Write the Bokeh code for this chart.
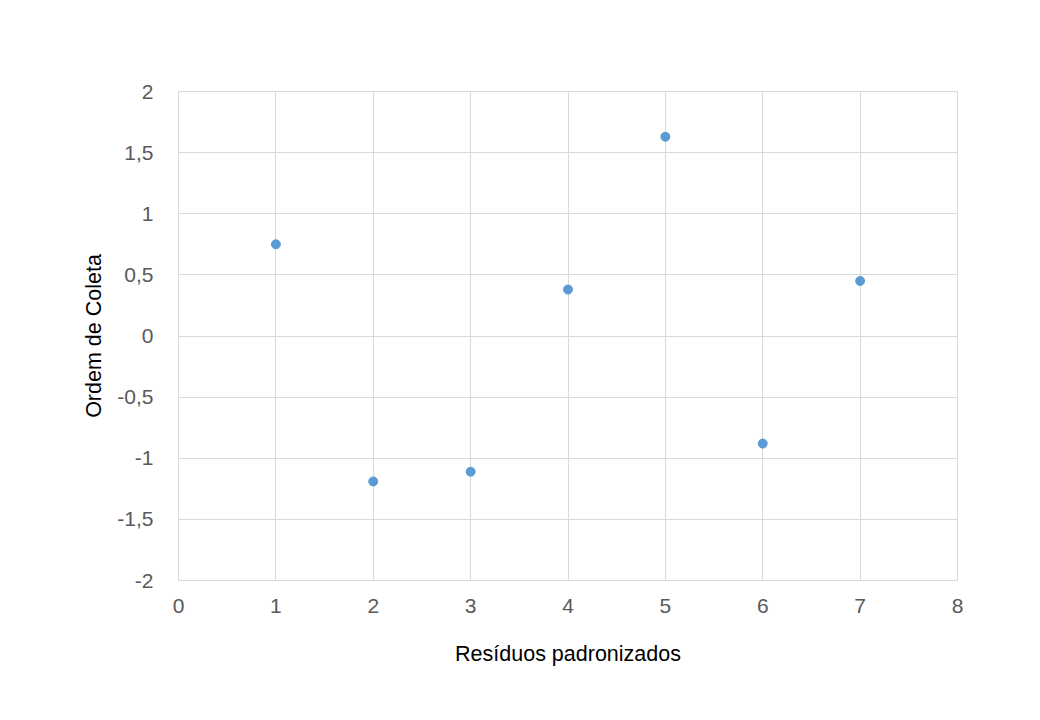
from bokeh.plotting import figure
from bokeh.models import Range1d, FixedTicker
from bokeh.embed import file_html
from bokeh.resources import INLINE

# ordem de coleta vs residuos padronizados
ordem = [1, 2, 3, 4, 5, 6, 7]
residuos = [0.75, -1.19, -1.11, 0.38, 1.63, -0.88, 0.45]

x_ticks = [0, 1, 2, 3, 4, 5, 6, 7, 8]
y_ticks = [-2, -1.5, -1, -0.5, 0, 0.5, 1, 1.5, 2]
y_labels = ["-2", "-1,5", "-1", "-0,5", "0", "0,5", "1", "1,5", "2"]

FONT = "Liberation Sans"
GRID = "#d9d9d9"

p = figure(width=1024, height=704, output_backend="svg", toolbar_location=None,
           x_range=Range1d(0, 8), y_range=Range1d(-2, 2),
           min_border_left=178, min_border_right=67,
           min_border_top=91, min_border_bottom=124)
p.outline_line_color = GRID

p.scatter(ordem, residuos, size=9, color="#5b9bd5", line_color="#5b9bd5")

for ax, ticks in ((p.xaxis, x_ticks), (p.yaxis, y_ticks)):
    ax.ticker = FixedTicker(ticks=ticks)
    ax.axis_line_color = None
    ax.major_tick_line_color = None
    ax.minor_tick_line_color = None
    ax.major_label_text_font = FONT
    ax.major_label_text_font_size = "21px"
    ax.major_label_text_color = "#595959"
    ax.axis_label_text_font = FONT
    ax.axis_label_text_font_size = "21.5px"
    ax.axis_label_text_font_style = "normal"
    ax.axis_label_text_color = "#000000"

p.yaxis.major_label_overrides = dict(zip(y_ticks, y_labels))
p.xaxis.axis_label = "Resíduos padronizados"
p.yaxis.axis_label = "Ordem de Coleta"
p.yaxis.major_label_standoff = 19
p.xaxis.major_label_standoff = 12
p.yaxis.axis_label_standoff = 8
p.xaxis.axis_label_standoff = 26

p.xgrid.grid_line_color = GRID
p.ygrid.grid_line_color = GRID

open("out.html", "w").write(file_html(p, INLINE))
